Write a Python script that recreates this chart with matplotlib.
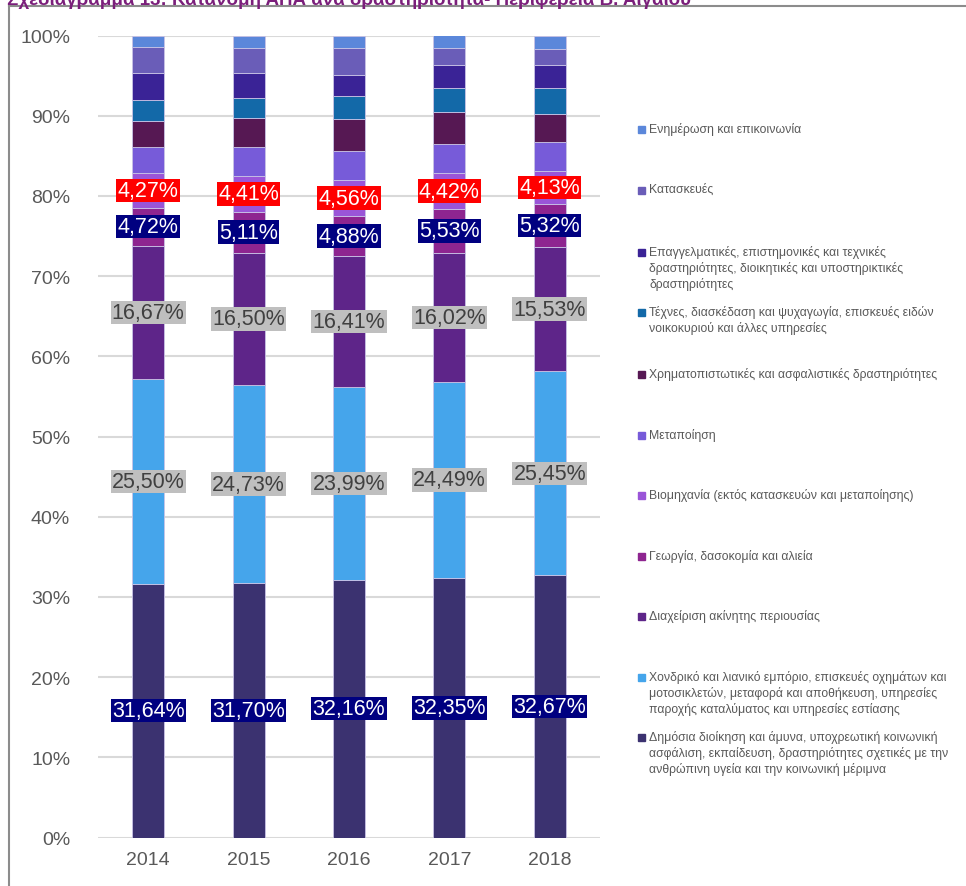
import matplotlib
matplotlib.use('Agg')
import matplotlib.pyplot as plt
from matplotlib.lines import Line2D
from matplotlib.patches import Rectangle
import numpy as np

# Data (percent share per activity, bottom of stack first)
years = ['2014', '2015', '2016', '2017', '2018']

categories = [
    'Δημόσια διοίκηση και άμυνα, υποχρεωτική κοινωνική\nασφάλιση, εκπαίδευση, δραστηριότητες σχετικές με την\nανθρώπινη υγεία και την κοινωνική μέριμνα',
    'Χονδρικό και λιανικό εμπόριο, επισκευές οχημάτων και\nμοτοσικλετών, μεταφορά και αποθήκευση, υπηρεσίες\nπαροχής καταλύματος και υπηρεσίες εστίασης',
    'Διαχείριση ακίνητης περιουσίας',
    'Γεωργία, δασοκομία και αλιεία',
    'Βιομηχανία (εκτός κατασκευών και μεταποίησης)',
    'Μεταποίηση',
    'Χρηματοπιστωτικές και ασφαλιστικές δραστηριότητες',
    'Τέχνες, διασκέδαση και ψυχαγωγία, επισκευές ειδών\nνοικοκυριού και άλλες υπηρεσίες',
    'Επαγγελματικές, επιστημονικές και τεχνικές\nδραστηριότητες, διοικητικές και υποστηρικτικές\nδραστηριότητες',
    'Κατασκευές',
    'Ενημέρωση και επικοινωνία',
]

dimosia = [31.64, 31.70, 32.16, 32.35, 32.67]
xondriko = [25.50, 24.73, 23.99, 24.49, 25.45]
akiniti = [16.67, 16.50, 16.41, 16.02, 15.53]
georgia = [4.72, 5.11, 4.88, 5.53, 5.32]
viomixania = [4.27, 4.41, 4.56, 4.42, 4.13]
metapoiisi = [3.35, 3.64, 3.65, 3.69, 3.58]
xrimatopist = [3.16, 3.63, 3.91, 3.99, 3.58]
texnes = [2.70, 2.54, 2.91, 2.92, 3.15]
epaggelmatikes = [3.28, 3.03, 2.66, 2.90, 2.91]
kataskeves = [3.28, 3.21, 3.28, 2.08, 2.04]
enimerosi = [1.43, 1.50, 1.59, 1.61, 1.64]

series = [dimosia, xondriko, akiniti, georgia, viomixania, metapoiisi,
          xrimatopist, texnes, epaggelmatikes, kataskeves, enimerosi]

colors = ['#3B3270', '#45A5EB', '#5E2589', '#8E2590', '#9A55D8', '#775BD9',
          '#561853', '#1369A8', '#3A2396', '#6A5DB8', '#5B87DA']

# label box styles for the labelled series (face, text)
label_styles = {0: ('#000080', 'white'), 1: ('#BFBFBF', '#404040'),
                2: ('#BFBFBF', '#404040'), 3: ('#000080', 'white'),
                4: ('#FF0000', 'white')}

plt.rcParams['font.family'] = ['Liberation Sans', 'DejaVu Sans']

W, H = 966, 887
fig = plt.figure(figsize=(W / 100, H / 100), dpi=100)
ax = fig.add_axes([98 / W, 1 - 838.5 / H, 502 / W, 802 / H])

x = np.arange(len(years))
bottom = np.zeros(len(years))
for i, vals in enumerate(series):
    vals = np.array(vals)
    ax.bar(x, vals, width=0.32, bottom=bottom, color=colors[i],
           edgecolor='#C9C3E6', linewidth=0.6, zorder=3)
    if i in label_styles:
        face, tc = label_styles[i]
        for xi, v, b in zip(x, vals, bottom):
            ax.text(xi, b + v / 2, f'{v:.2f}%'.replace('.', ','), ha='center',
                    va='center', fontsize=15.5, color=tc, zorder=5,
                    bbox=dict(boxstyle='square,pad=0.06', fc=face, ec='none'))
    bottom += vals

ax.set_xlim(-0.5, 4.5)
ax.set_ylim(0, 100)
ax.set_yticks(np.arange(0, 101, 10))
ax.set_yticklabels([f'{t}%' for t in range(0, 101, 10)])
ax.set_xticks(x)
ax.set_xticklabels(years)
ax.tick_params(axis='both', length=0, labelsize=14, colors='#595959')
ax.tick_params(axis='y', pad=20)
ax.tick_params(axis='x', pad=10)
ax.grid(axis='y', color='#D9D9D9', linewidth=1.5, zorder=0)
for s in ax.spines.values():
    s.set_visible(False)

# legend drawn by hand (reverse stack order, uneven spacing like the original)
legend_y = [130, 191, 253, 313, 375, 436, 496, 557, 617, 678, 738]
for k, i in enumerate(reversed(range(len(series)))):
    yy = legend_y[k]
    fig.patches.append(Rectangle((638 / W, 1 - (yy + 3.5) / H), 7 / W, 7 / H,
                                 transform=fig.transFigure, color=colors[i]))
    fig.text(649 / W, 1 - (yy - 7) / H, categories[i], ha='left', va='top',
             fontsize=8.8, color='#595959', linespacing=1.3,
             transform=fig.transFigure)

# frame around the chart
fig.lines.append(Line2D([9 / W, 9 / W], [0, 1 - 7 / H], transform=fig.transFigure,
                        color='#8C8C8C', linewidth=1.5))
fig.lines.append(Line2D([9 / W, 1], [1 - 7 / H, 1 - 7 / H], transform=fig.transFigure,
                        color='#8C8C8C', linewidth=1.5))

# title, cut off at the top like in the source
fig.text(7 / W, 1 - 5 / H, 'Σχεδιάγραμμα 13: Κατανομή ΑΠΑ ανά δραστηριότητα- Περιφέρεια Β. Αιγαίου',
         ha='left', va='baseline', fontsize=13.5, fontweight='bold', color='#7B1F7B')

fig.savefig('out.png', dpi=100)
